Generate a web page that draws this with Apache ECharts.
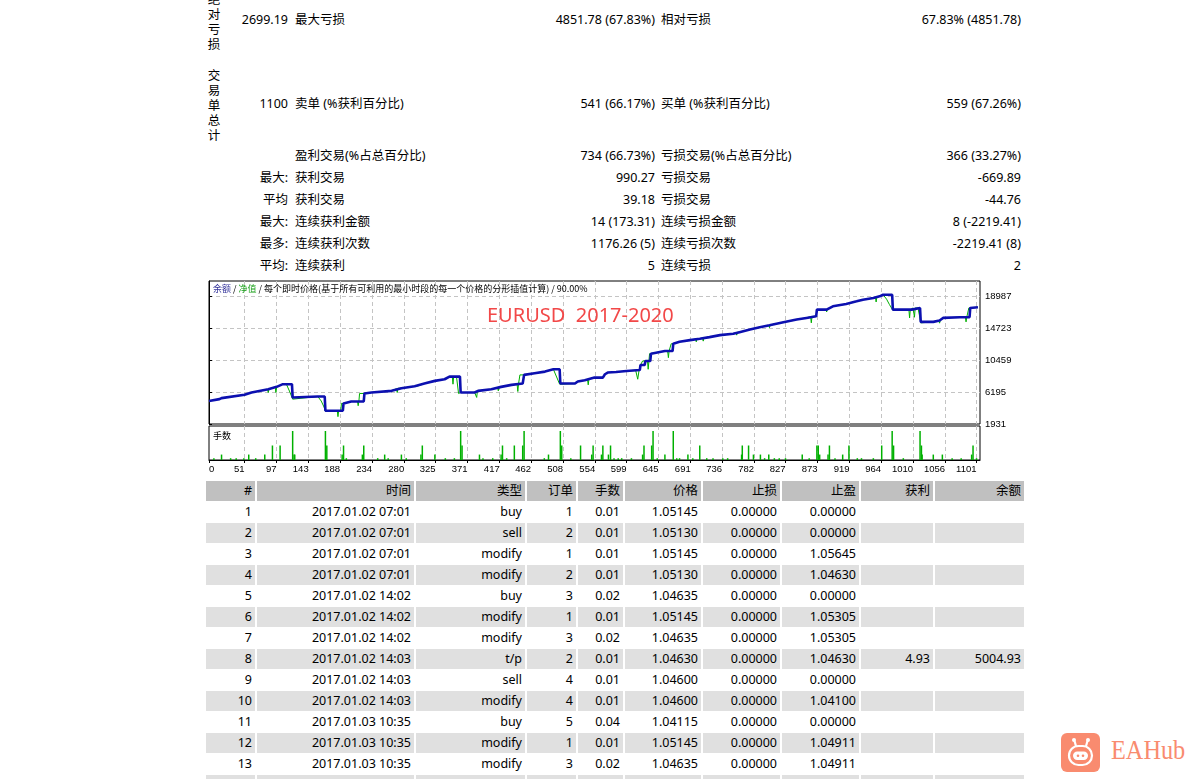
<!DOCTYPE html>
<html>
<head>
<meta charset="utf-8">
<title>EURUSD 2017-2020</title>
<script src="https://cdn.jsdelivr.net/npm/echarts@6.0.0/dist/echarts.min.js"></script>
<style>
  body { margin:0; width:1200px; height:779px; overflow:hidden; position:relative; background:#fff;
         font-family:"Noto Sans","Noto Sans CJK SC",sans-serif; font-size:12.5px; color:#000; }
  .t { position:absolute; white-space:nowrap; line-height:16px; }
  .vl { position:absolute; left:207px; width:14px; text-align:center; line-height:15px; }
  .c { position:absolute; height:20px; line-height:20px; text-align:right; padding-right:3px;
       box-sizing:border-box; white-space:nowrap; overflow:hidden; }
  #chart { position:absolute; left:200px; top:278px; width:830px; height:200px; }
  #logo { position:absolute; left:1061px; top:733px; }
  #logoText { position:absolute; left:1111px; top:734px; font-family:"Liberation Serif",serif; font-size:27px;
              line-height:32px; color:#f98b6f; transform:scaleX(0.9); transform-origin:left; }
</style>
</head>
<body>
<div class="vl" style="top:-8.5px">绝对亏损</div>
<div class="vl" style="top:67.5px">交易单总计</div>
<div id="stats"></div>
<div id="trades"></div>
<div id="chart"></div>
<svg id="logo" width="39" height="39" viewBox="0 0 39 39">
  <rect width="39" height="39" rx="6" fill="#f98b6f"/>
  <g stroke="#fff" stroke-width="2.2" fill="none">
    <line x1="13.5" y1="8" x2="15" y2="13"/><line x1="26.5" y1="8" x2="25" y2="13"/>
    <rect x="8" y="13" width="23" height="19" rx="9.5"/>
  </g>
  <circle cx="13" cy="7" r="2" fill="#fff"/><circle cx="27" cy="7" r="2" fill="#fff"/>
  <rect x="12" y="18.5" width="15" height="8.5" rx="4.2" fill="#fff"/>
  <circle cx="17" cy="22.8" r="1.3" fill="#f98b6f"/><circle cx="22" cy="22.8" r="1.3" fill="#f98b6f"/>
</svg>
<div id="logoText">EAHub</div>
<script>
// ---- summary block ----
var statVals1   = ['2699.19','1100','','最大:','平均','最大:','最多:','平均:'];
var statLabels1 = ['最大亏损','卖单 (%获利百分比)','盈利交易(%占总百分比)','获利交易','获利交易','连续获利金额','连续获利次数','连续获利'];
var statVals2   = ['4851.78 (67.83%)','541 (66.17%)','734 (66.73%)','990.27','39.18','14 (173.31)','1176.26 (5)','5'];
var statLabels2 = ['相对亏损','买单 (%获利百分比)','亏损交易(%占总百分比)','亏损交易','亏损交易','连续亏损金额','连续亏损次数','连续亏损'];
var statVals3   = ['67.83% (4851.78)','559 (67.26%)','366 (33.27%)','-669.89','-44.76','8 (-2219.41)','-2219.41 (8)','2'];
var statRowY    = [20,104,155.5,177.5,199.5,221.5,243.5,265.5];

// ---- trade list ----
var tableHead   = ['#','时间','类型','订单','手数','价格','止损','止盈','获利','余额'];
var tradeNo     = ['1','2','3','4','5','6','7','8','9','10','11','12','13'];
var tradeTime   = ['2017.01.02 07:01','2017.01.02 07:01','2017.01.02 07:01','2017.01.02 07:01','2017.01.02 14:02','2017.01.02 14:02','2017.01.02 14:02','2017.01.02 14:03','2017.01.02 14:03','2017.01.02 14:03','2017.01.03 10:35','2017.01.03 10:35','2017.01.03 10:35'];
var tradeType   = ['buy','sell','modify','modify','buy','modify','modify','t/p','sell','modify','buy','modify','modify'];
var tradeOrder  = ['1','2','1','2','3','1','3','2','4','4','5','1','3'];
var tradeLots   = ['0.01','0.01','0.01','0.01','0.02','0.01','0.02','0.01','0.01','0.01','0.04','0.01','0.02'];
var tradePrice  = ['1.05145','1.05130','1.05145','1.05130','1.04635','1.05145','1.04635','1.04630','1.04600','1.04600','1.04115','1.05145','1.04635'];
var tradeSL     = ['0.00000','0.00000','0.00000','0.00000','0.00000','0.00000','0.00000','0.00000','0.00000','0.00000','0.00000','0.00000','0.00000'];
var tradeTP     = ['0.00000','0.00000','1.05645','1.04630','0.00000','1.05305','1.05305','1.04630','0.00000','1.04100','0.00000','1.04911','1.04911'];
var tradeProfit = ['','','','','','','','4.93','','','','',''];
var tradeBal    = ['','','','','','','','5004.93','','','','',''];

// ---- chart data: [trade #, value] ----
var xTicks = [0,51,97,143,188,234,280,325,371,417,462,508,554,599,645,691,736,782,827,873,919,964,1010,1056,1101];
var yTicks = [1931,6195,10459,14723,18987];
var balance = [
  [0,5005],[15,5250],[18,5390],[51,5830],[61,6140],[85,6580],[97,6890],[106,7250],[119,7250],[120,5480],
  [156,5610],[166,5610],[167,3705],[192,3705],[193,4680],[204,4945],[222,4945],[223,6010],[233,6140],[262,6360],
  [276,6715],[295,6980],[309,7335],[324,7690],[338,7910],[345,8265],[360,8265],[361,6140],[381,6140],[386,6360],
  [405,6580],[419,6890],[434,7160],[450,7335],[452,8490],[467,8710],[482,8930],[494,9240],[503,9240],[504,7335],
  [525,7335],[529,7600],[539,7780],[553,8130],[565,8130],[568,8575],[572,8800],[584,8885],[599,9020],[618,9150],
  [619,9815],[625,9815],[626,10345],[633,10345],[634,11320],[654,11675],[665,11675],[666,12650],[675,12915],[690,13135],
  [704,13310],[718,13535],[733,13800],[752,13975],[761,14200],[776,14550],[790,14860],[804,15125],[824,15525],[843,15880],
  [857,16100],[871,16320],[872,17205],[886,17205],[895,17650],[914,17960],[929,18315],[938,18535],[953,18755],[962,18980],
  [967,19200],[980,19200],[981,17205],[1008,17205],[1010,17430],[1020,17430],[1021,15570],[1039,15570],[1048,15745],[1053,16100],
  [1077,16190],[1091,16190],[1092,17430],[1103,17520]
];
var equity = [
  [0,5005],[14,5240],[15,5030],[16,5250],[18,5390],[50,5810],[51,5610],[52,5830],[61,6140],
  [84,6560],[85,6140],[86,6580],[95,6860],[96,6140],[97,6890],[106,7250],[111,7250],[116,6200],[120,5250],[121,5480],
  [156,5610],[161,5000],[165,4200],[167,3620],[168,3705],[184,3705],[185,2910],[186,3705],[189,3705],[190,4680],[193,4680],
  [204,4945],[213,4945],[214,4370],[215,4945],[216,6010],[223,6010],[233,6140],[237,6170],[238,5920],[239,6180],
  [262,6360],[269,6650],[270,6140],[271,6700],[276,6715],[295,6980],[299,6990],[300,6805],[301,7030],
  [309,7335],[324,7690],[338,7910],[345,8265],[349,8265],[350,7250],[351,8265],[355,8265],[358,6000],[361,6140],
  [381,6140],[383,6300],[384,5480],[385,6340],[386,6360],[405,6580],[414,6800],[415,6360],[416,6830],
  [419,6890],[434,7160],[442,7250],[443,6275],[444,7270],[446,8490],[452,8490],
  [467,8710],[482,8930],[494,9240],[496,9240],[503,7250],[504,7335],[526,7335],[527,7160],[528,7500],
  [529,7600],[539,7780],[543,7900],[544,7160],[545,7950],[553,8130],[564,8130],[565,7900],[566,8200],
  [568,8575],[572,8800],[584,8885],[599,9020],[612,9120],[615,7910],[617,9150],[619,9815],[621,9815],[622,10345],
  [629,10345],[630,9240],[632,11320],[634,11320],[654,11675],[658,11600],[659,10790],[660,11675],[663,12650],[666,12650],
  [675,12915],[679,12950],[680,12780],[681,12980],[690,13135],[698,13280],[699,12910],[700,13290],
  [704,13310],[708,13420],[709,13000],[710,13440],[718,13535],[733,13800],[752,13975],[756,14150],[757,13800],[758,14180],
  [761,14200],[776,14550],[790,14860],[803,15100],[804,14800],[805,15140],[824,15525],[843,15880],[857,16100],
  [863,16270],[864,15440],[865,16290],[871,16320],[872,17205],[885,17205],[886,16900],[887,17220],
  [895,17650],[914,17960],[929,18315],[938,18535],[953,18755],[956,18860],[957,18230],[958,18870],
  [962,18980],[967,19200],[972,18600],[976,17900],[981,17120],[982,17205],[1004,17205],[1005,16100],[1006,17205],
  [1010,17430],[1011,17430],[1012,16190],[1013,17430],[1017,17430],[1019,16500],[1021,15440],[1022,15570],
  [1039,15570],[1047,15700],[1048,15400],[1049,15760],[1053,16100],[1077,16190],
  [1085,16190],[1086,15570],[1087,16190],[1090,17430],[1092,17430],[1103,17520]
];
var lots = [
  [7,0.02],[18,0.06],[31,0.02],[39,0.02],[50,0.02],[57,0.06],[67,0.02],[80,0.06],[91,0.16],[102,0.16],
  [120,0.32],[122,0.06],[123,0.06],[167,0.32],[169,0.16],[191,0.06],[193,0.16],[197,0.02],[220,0.06],[222,0.16],
  [242,0.02],[252,0.06],[257,0.02],[276,0.06],[283,0.02],[304,0.06],[306,0.16],[324,0.06],[339,0.02],[352,0.02],
  [361,0.32],[363,0.16],[388,0.06],[393,0.02],[407,0.02],[419,0.06],[421,0.16],[427,0.02],[438,0.16],[450,0.16],
  [452,0.32],[481,0.02],[487,0.06],[504,0.32],[506,0.16],[519,0.02],[533,0.16],[549,0.06],[551,0.16],[563,0.06],
  [565,0.16],[573,0.06],[576,0.16],[581,0.02],[587,0.02],[592,0.02],[606,0.02],[622,0.06],[624,0.16],[635,0.16],
  [637,0.32],[643,0.02],[654,0.06],[666,0.32],[671,0.02],[675,0.02],[687,0.06],[694,0.02],[704,0.16],[714,0.02],
  [723,0.02],[737,0.02],[744,0.02],[764,0.06],[765,0.16],[774,0.16],[781,0.06],[791,0.06],[797,0.02],[803,0.06],
  [811,0.02],[818,0.02],[827,0.02],[851,0.06],[861,0.02],[872,0.16],[874,0.16],[876,0.06],[888,0.06],[890,0.16],
  [898,0.02],[909,0.06],[918,0.16],[930,0.02],[936,0.02],[953,0.02],[965,0.16],[980,0.32],[982,0.16],[996,0.02],
  [1020,0.32],[1022,0.16],[1023,0.06],[1039,0.06],[1052,0.06],[1066,0.02],[1079,0.02],[1094,0.06],[1096,0.16],[1101,0.02]
];

// summary rows
function put(parent, text, y, left, right){
  var d = document.createElement('div');
  d.className = 't';
  d.textContent = text;
  d.style.top = (y - 8) + 'px';
  if (left != null) d.style.left = left + 'px';
  if (right != null) d.style.right = right + 'px';
  parent.appendChild(d);
}
var stats = document.getElementById('stats');
for (var i = 0; i < statRowY.length; i++) {
  var y = statRowY[i];
  put(stats, statVals1[i], y, null, 1200 - 288);
  put(stats, statLabels1[i], y, 295, null);
  put(stats, statVals2[i], y, null, 1200 - 655);
  put(stats, statLabels2[i], y, 661, null);
  put(stats, statVals3[i], y, null, 1200 - 1021);
}

// trade table
var colLeft  = [206,257,416,527,578,625,703,782,861,935];
var colWidth = [49,157,109,49,45,76,77,77,72,89];
var trades = document.getElementById('trades');
function row(cells, top, bg){
  for (var k = 0; k < colLeft.length; k++) {
    var c = document.createElement('div');
    c.className = 'c';
    c.style.left = colLeft[k] + 'px';
    c.style.width = colWidth[k] + 'px';
    c.style.top = top + 'px';
    if (bg) c.style.background = bg;
    c.textContent = cells[k] || '';
    trades.appendChild(c);
  }
}
row(tableHead, 481, '#c0c0c0');
for (var r = 0; r < tradeNo.length; r++) {
  row([tradeNo[r], tradeTime[r], tradeType[r], tradeOrder[r], tradeLots[r], tradePrice[r],
       tradeSL[r], tradeTP[r], tradeProfit[r], tradeBal[r]], 502 + 21 * r, r % 2 ? '#e0e0e0' : null);
}
row([], 502 + 21 * 13, '#e0e0e0');

// chart
var myChart = echarts.init(document.getElementById('chart'));
var gridDash = { color:'#c4c4c4', type:[4,3], width:1 };
var axisFont = '"Liberation Sans",sans-serif';
function plain(v){ return String(v); }  // MT4 prints no thousands separator
var option = {
  animation: false,
  textStyle: { fontFamily:'"Noto Sans CJK SC","Noto Sans",sans-serif' },
  title: [
    { text:'{a|余额} / {b|净值} / 每个即时价格(基于所有可利用的最小时段的每一个价格的分形插值计算) / 90.00%',
      left:13, top:6.5, padding:0,
      textStyle:{ fontSize:9, fontWeight:'normal', color:'#000',
        rich:{ a:{ color:'#33339a', fontSize:9 }, b:{ color:'#1aa01a', fontSize:9 } } } },
    { text:'EURUSD  2017-2020', left:287, top:28, padding:0,
      textStyle:{ fontSize:20, fontWeight:'normal', color:'#f24848', fontFamily:'"Noto Sans",sans-serif' } },
    { text:'手数', left:13, top:153, padding:0,
      textStyle:{ fontSize:9, fontWeight:'normal', color:'#000' } }
  ],
  grid: [
    { left:9, top:3, width:771, height:143, show:true, borderColor:'#000', borderWidth:1, backgroundColor:'#fff' },
    { left:9, top:148, width:771, height:34, show:true, borderColor:'#000', borderWidth:1, backgroundColor:'#fff' }
  ],
  xAxis: [
    { type:'value', gridIndex:0, min:0, max:1106,
      axisLine:{ show:false }, axisLabel:{ show:false },
      axisTick:{ show:false, customValues:xTicks },
      splitLine:{ show:true, showMinLine:false, lineStyle:gridDash } },
    { type:'value', gridIndex:1, min:0, max:1106,
      axisLine:{ show:true, onZero:false, lineStyle:{ color:'#000' } },
      axisTick:{ show:true, length:3, customValues:xTicks, lineStyle:{ color:'#000' } },
      axisLabel:{ customValues:xTicks, formatter:plain, align:'right', alignMinLabel:'left', margin:4,
                  fontSize:9.5, color:'#000', fontFamily:axisFont },
      splitLine:{ show:true, showMinLine:false, lineStyle:gridDash } }
  ],
  yAxis: [
    { type:'value', gridIndex:0, position:'right', min:1931, max:21030,
      axisLine:{ show:true, lineStyle:{ color:'#000' } },
      axisTick:{ show:true, length:3, customValues:yTicks, lineStyle:{ color:'#000' } },
      axisLabel:{ customValues:yTicks, formatter:plain, margin:5, fontSize:9.5, color:'#000', fontFamily:axisFont },
      splitLine:{ show:true, showMinLine:false, lineStyle:gridDash } },
    { type:'value', gridIndex:1, min:0, max:0.375, show:false }
  ],
  series: [
    { name:'净值', type:'line', xAxisIndex:0, yAxisIndex:0, data:equity, showSymbol:false,
      lineStyle:{ color:'#00b000', width:1 }, itemStyle:{ color:'#00b000' }, z:2 },
    { name:'余额', type:'line', xAxisIndex:0, yAxisIndex:0, data:balance, showSymbol:false,
      lineStyle:{ color:'#0c10b0', width:2.6 }, itemStyle:{ color:'#0c10b0' }, z:3 },
    { name:'手数', type:'bar', xAxisIndex:1, yAxisIndex:1, data:lots, barWidth:1.5,
      itemStyle:{ color:'#00b000' } }
  ]
};
myChart.setOption(option);
</script>
</body>
</html>
